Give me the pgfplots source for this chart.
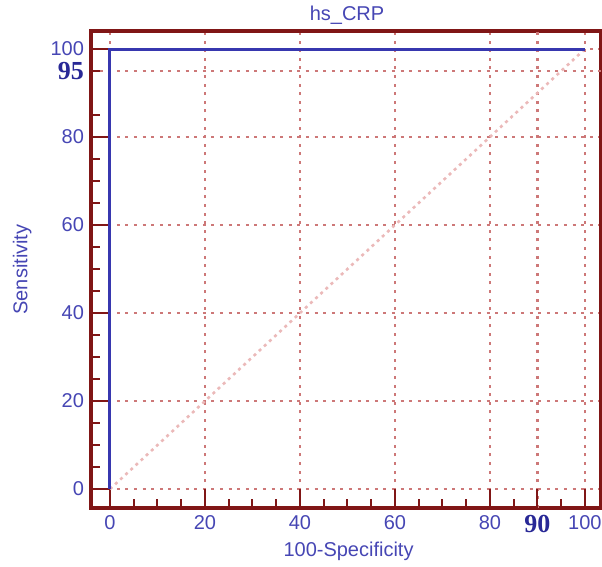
\documentclass[border=0pt]{standalone}
\usepackage{fontspec}
\setmainfont{Liberation Sans}
\newfontfamily\timesfont{Liberation Serif}
\usepackage{pgfplots}
\pgfplotsset{compat=1.18}
\definecolor{framec}{RGB}{128,22,22}
\definecolor{gridc}{RGB}{205,120,120}
\definecolor{diagc}{RGB}{235,185,185}
\definecolor{curvec}{RGB}{55,55,175}
\definecolor{labelc}{RGB}{70,70,180}
\definecolor{handc}{RGB}{40,40,150}
\begin{document}
\begin{tikzpicture}
\useasboundingbox (-45.5pt,-29.5pt) rectangle (255.5pt,254pt);
\begin{axis}[
    scale only axis, width=255pt, height=238.5pt,
    at={(0,0)}, anchor=south west,
    xmin=-4, xmax=103.4, ymin=-4.3, ymax=104.1,
    xtick={0,20,40,60,80,100}, ytick={0,20,40,60,80,100},
    minor xtick={5,10,15,25,30,35,45,50,55,65,70,75,85,95},
    minor ytick={5,10,15,25,30,35,45,50,55,65,70,75,85,95},
    tick pos=left, tick align=inside,
    major tick length=9.5pt, minor tick length=4.5pt,
    every tick/.style={framec, line width=1pt},
    axis line style={framec, line width=2pt},
    grid=major,
    major grid style={gridc, line width=1.3pt, dash pattern=on 1.5pt off 2.8pt},
    tick label style={text=labelc, font=\fontsize{10}{12}\selectfont},
    /pgf/number format/assume math mode=true,
    extra x ticks={90}, extra x tick labels={90},
    extra x tick style={grid=major, xticklabel style={text=handc, font=\timesfont\bfseries\fontsize{13}{13}\selectfont}},
    extra y ticks={95}, extra y tick labels={95},
    extra y tick style={grid=major, major tick length=4.5pt, yticklabel style={text=handc, font=\timesfont\bfseries\fontsize{13}{13}\selectfont}},
    title={hs\_CRP},
    every axis title shift=0pt,
    title style={at={(axis description cs:0.502,1.0335)}, anchor=center, text=labelc, font=\fontsize{10}{12}\selectfont},
    xlabel={100-Specificity},
    xlabel style={at={(axis description cs:0.505,-0.090)}, anchor=center, text=labelc, font=\fontsize{10}{12}\selectfont},
    ylabel={Sensitivity},
    ylabel style={at={(axis description cs:-0.135,0.5)}, anchor=center, text=labelc, font=\fontsize{10}{12}\selectfont},
]
\addplot[diagc, line width=1.3pt, dash pattern=on 1.5pt off 2pt] coordinates {(0,0) (100,100)};
\addplot[curvec, line width=1.5pt] coordinates {(0,0) (0,100) (100,100)};
\end{axis}
\end{tikzpicture}
\end{document}
